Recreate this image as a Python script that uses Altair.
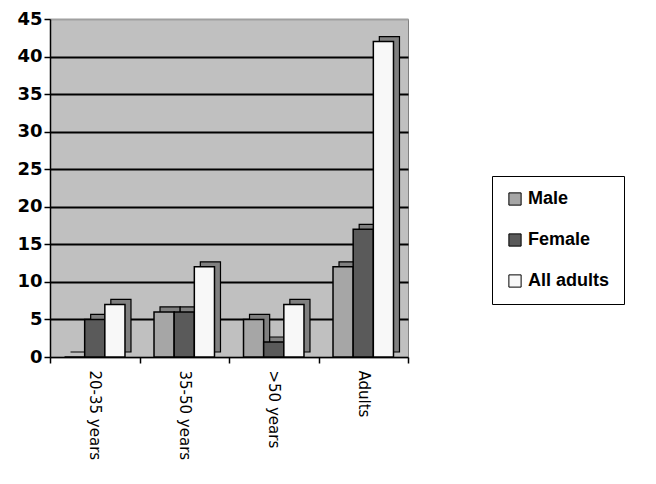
import altair as alt
import pandas as pd

categories = ["20-35 years", "35-50 years", ">50 years", "Adults"]
series = ["Male", "Female", "All adults"]
male = [0, 6, 5, 12]
female = [5, 6, 2, 17]
all_adults = [7, 12, 7, 42]
colors = ["#A6A6A6", "#5A5A5A", "#F8F8F8"]

rows = []
for i, c in enumerate(categories):
    for s, vals in zip(series, [male, female, all_adults]):
        rows.append({"cat": c, "series": s, "value": vals[i]})
df = pd.DataFrame(rows)

FONT = "Liberation Sans"
W, H = 358, 338
BW = W / len(categories)

x = alt.X("cat:N", sort=categories, title=None,
          scale=alt.Scale(paddingInner=0, paddingOuter=0),
          axis=alt.Axis(labelAngle=90, labelAlign="left", labelBaseline="middle",
                        labelFontSize=15, labelFont="DejaVu Sans", labelColor="black",
                        labelPadding=7, tickBand="extent", tickSize=6,
                        tickColor="black", tickWidth=1.5, domainColor="black",
                        domainWidth=1.5, grid=False))
y_axis = alt.Axis(values=list(range(0, 50, 5)), labelFontSize=18,
                  labelFontWeight="bold", labelFont="DejaVu Sans", labelColor="black",
                  tickSize=6, tickColor="black", tickWidth=1.5,
                  labelPadding=2, domainColor="black", domainWidth=1.5,
                  grid=True, gridWidth=1.8,
                  gridColor={"condition": {"test": "datum.value >= 45 || datum.value <= 0",
                                           "value": "#A0A0A0"},
                             "value": "black"})
y = alt.Y("value:Q", title=None, scale=alt.Scale(domain=[0, 45], nice=False), axis=y_axis)
color = alt.Color("series:N", sort=series,
                  scale=alt.Scale(domain=series, range=colors),
                  legend=alt.Legend(title=None, orient="none", legendX=442, legendY=157,
                                    symbolType="square", symbolSize=150,
                                    symbolStrokeColor="black", symbolStrokeWidth=1,
                                    labelFontSize=18, labelFontWeight="bold",
                                    labelFont=FONT, labelColor="black",
                                    padding=14, rowPadding=23, strokeColor="black",
                                    fillColor="white", symbolOpacity=1))

side = alt.Chart(df).mark_bar(color="#808080", stroke="black", strokeWidth=1.2,
                              yOffset=-5, y2Offset=-5).encode(
    x=x,
    xOffset=alt.XOffset("series:N", sort=series,
                        scale=alt.Scale(paddingInner=0, paddingOuter=0.72, range=[6, BW + 6])),
    y=alt.Y("value:Q", title=None, scale=alt.Scale(domain=[0, 45], nice=False), axis=y_axis))
front = alt.Chart(df).mark_bar(stroke="black", strokeWidth=1.5, opacity=1).encode(
    x=x,
    xOffset=alt.XOffset("series:N", sort=series,
                        scale=alt.Scale(paddingInner=0, paddingOuter=0.72, range=[0, BW])),
    y=y, color=color)

chart = alt.layer(side, front).resolve_scale(xOffset="independent").properties(
    width=W, height=H,
    autosize=alt.AutoSizeParams(type="none"),
    padding={"left": 42, "top": 11, "right": 240, "bottom": 119},
    background="white",
).configure_view(fill="#C0C0C0", stroke="#808080", strokeWidth=1)

chart.save("out.html", embed_options={"renderer": "svg", "actions": False})
